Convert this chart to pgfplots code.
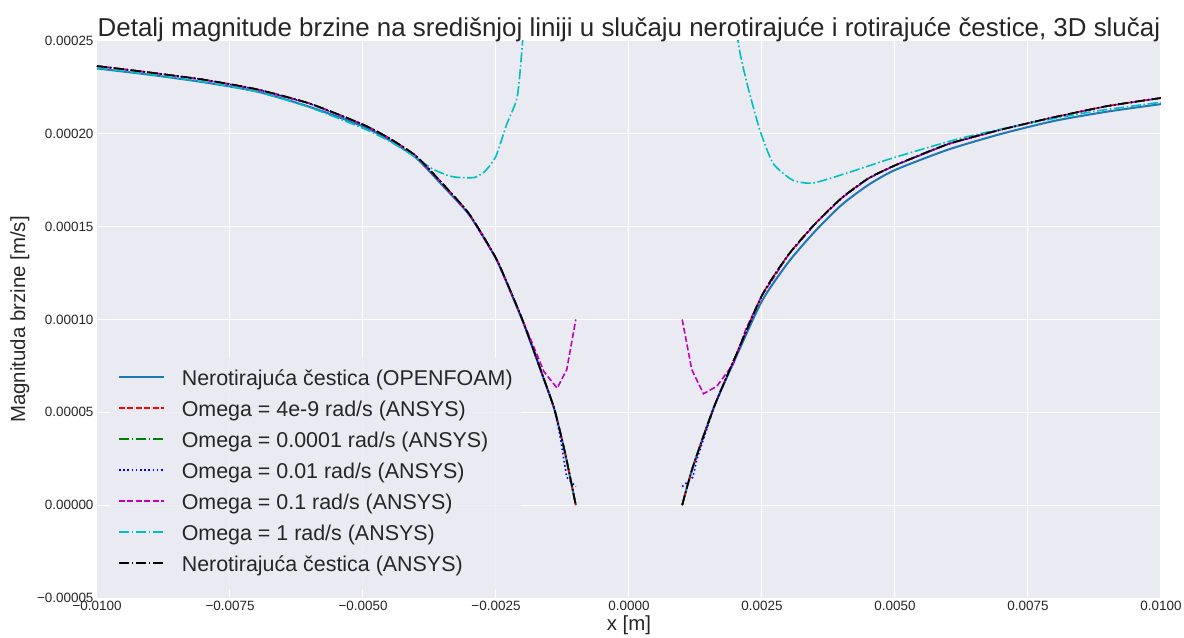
\documentclass[border=0pt]{standalone}
\usepackage{pgfplots}
\pgfplotsset{compat=1.18}
\usepackage{fontspec}
\setmainfont{Liberation Sans}
\definecolor{bgc}{HTML}{EAEAF2}
\definecolor{txt}{HTML}{262626}
\definecolor{c0}{HTML}{1F77B4}
\definecolor{rr}{HTML}{FF0000}
\definecolor{mm}{HTML}{BF00BF}
\definecolor{cc}{HTML}{00BFBF}
\definecolor{gg}{HTML}{008000}

\begin{document}
\begin{tikzpicture}
\useasboundingbox (-97bp,-40bp) rectangle (1087bp,598bp);
\begin{axis}[
    at={(0,0)}, anchor=south west,
    scale only axis, width=1064bp, height=557bp,
    xmin=-0.01, xmax=0.01, ymin=-0.00005, ymax=0.00025,
    axis background/.style={fill=bgc},
    axis line style={draw=none},
    tick style={draw=none},
    scaled ticks=false,
    grid=major, grid style={white, line width=1bp},
    xtick={-0.01,-0.0075,-0.005,-0.0025,0,0.0025,0.005,0.0075,0.01},
    xticklabels={−0.0100,−0.0075,−0.0050,−0.0025,0.0000,0.0025,0.0050,0.0075,0.0100},
    ytick={-0.00005,0,0.00005,0.0001,0.00015,0.0002,0.00025},
    yticklabels={−0.00005,0.00000,0.00005,0.00010,0.00015,0.00020,0.00025},
    ticklabel style={font=\fontsize{13.5}{16}\selectfont, text=txt},
    title={Detalj magnitude brzine na središnjoj liniji u slučaju nerotirajuće i rotirajuće čestice, 3D slučaj},
    title style={font=\fontsize{26}{30}\selectfont, text=txt, at={(axis description cs:0.5,1)}, anchor=base, yshift=-1bp},
    xlabel={x [m]}, ylabel={Magnituda brzine [m/s]},
    label style={font=\fontsize{20.5}{24}\selectfont, text=txt},
    xlabel style={at={(axis description cs:0.5,-0.0485)}, anchor=center},
    ylabel style={at={(axis description cs:-0.0724,0.5)}, anchor=center},
    unbounded coords=jump,
    legend cell align=left,
    legend image code/.code={\draw[#1, line width=1.6bp] (0bp,0.35em) -- (45bp,0.35em);},
    legend style={at={(axis description cs:0,0)}, anchor=south west,
        xshift=13bp, yshift=8bp, fill=bgc, fill opacity=0.8, text opacity=1,
        draw=none, inner sep=8bp, font=\fontsize{21.5}{25}\selectfont,
        row sep=0bp, column sep=17bp,
        nodes={inner sep=0bp, text height=21bp, text depth=10bp, text=txt}},
]

% OPENFOAM, nerotirajuca
\addplot[c0, line width=2bp, smooth, tension=0.4] coordinates {
(-0.0100,2.352e-4) (-0.0090,2.318e-4) (-0.0080,2.278e-4) (-0.0070,2.228e-4)
(-0.0060,2.145e-4) (-0.0050,2.040e-4) (-0.0045,1.965e-4) (-0.0040,1.870e-4)
(-0.0035,1.720e-4) (-0.0030,1.562e-4) (-0.0025,1.328e-4) (-0.0022,1.130e-4)
(-0.0020,0.992e-4) (-0.0018,0.838e-4) (-0.0016,0.678e-4) (-0.0014,0.513e-4)
(-0.0012,0.278e-4) (-0.0010,0)
(0,nan)
(0.0010,0) (0.0012,0.205e-4) (0.0016,0.530e-4) (0.0020,0.790e-4)
(0.0025,1.100e-4) (0.0030,1.310e-4) (0.0035,1.476e-4) (0.0040,1.618e-4)
(0.0045,1.725e-4) (0.0050,1.805e-4) (0.0060,1.915e-4) (0.0070,2.000e-4)
(0.0080,2.070e-4) (0.0090,2.120e-4) (0.0100,2.160e-4)
};
\addlegendentry{Nerotirajuća čestica (OPENFOAM)}

% Omega = 4e-9
\addplot[rr, line width=1.6bp, dash pattern=on 5.9bp off 2.6bp, smooth, tension=0.4] coordinates {
(-0.0100,2.365e-4) (-0.0090,2.330e-4) (-0.0080,2.292e-4) (-0.0070,2.240e-4)
(-0.0060,2.163e-4) (-0.0050,2.050e-4) (-0.0045,1.975e-4) (-0.0040,1.880e-4)
(-0.0035,1.730e-4) (-0.0030,1.567e-4) (-0.0025,1.330e-4) (-0.0022,1.135e-4)
(-0.0020,0.996e-4) (-0.0018,0.840e-4) (-0.0016,0.680e-4) (-0.0014,0.515e-4)
(-0.0012,0.280e-4) (-0.0010,0)
(0,nan)
(0.0010,0) (0.0012,0.205e-4) (0.0016,0.530e-4) (0.0020,0.800e-4)
(0.0025,1.130e-4) (0.0030,1.350e-4) (0.0035,1.516e-4) (0.0040,1.655e-4)
(0.0045,1.760e-4) (0.0050,1.830e-4) (0.0060,1.945e-4) (0.0070,2.023e-4)
(0.0080,2.090e-4) (0.0090,2.150e-4) (0.0100,2.193e-4)
};
\addlegendentry{Omega = 4e-9 rad/s (ANSYS)}

% Omega = 0.0001
\addplot[gg, line width=1.6bp, dash pattern=on 10.2bp off 2.6bp on 1.6bp off 2.6bp, smooth, tension=0.4] coordinates {
(-0.0100,2.365e-4) (-0.0090,2.330e-4) (-0.0080,2.292e-4) (-0.0070,2.240e-4)
(-0.0060,2.163e-4) (-0.0050,2.050e-4) (-0.0045,1.975e-4) (-0.0040,1.880e-4)
(-0.0035,1.730e-4) (-0.0030,1.567e-4) (-0.0025,1.330e-4) (-0.0022,1.135e-4)
(-0.0020,0.996e-4) (-0.0018,0.840e-4) (-0.0016,0.680e-4) (-0.0014,0.515e-4)
(-0.0012,0.280e-4) (-0.0010,0)
(0,nan)
(0.0010,0) (0.0012,0.205e-4) (0.0016,0.530e-4) (0.0020,0.800e-4)
(0.0025,1.130e-4) (0.0030,1.350e-4) (0.0035,1.516e-4) (0.0040,1.655e-4)
(0.0045,1.760e-4) (0.0050,1.830e-4) (0.0060,1.945e-4) (0.0070,2.023e-4)
(0.0080,2.090e-4) (0.0090,2.150e-4) (0.0100,2.193e-4)
};
\addlegendentry{Omega = 0.0001 rad/s (ANSYS)}

% Omega = 0.01
\addplot[blue, line width=1.6bp, dash pattern=on 1.6bp off 2.6bp] coordinates {
(-0.0100,2.365e-4) (-0.0090,2.330e-4) (-0.0080,2.292e-4) (-0.0070,2.240e-4)
(-0.0060,2.163e-4) (-0.0050,2.050e-4) (-0.0045,1.975e-4) (-0.0040,1.880e-4)
(-0.0035,1.730e-4) (-0.0030,1.567e-4) (-0.0025,1.330e-4) (-0.0022,1.135e-4)
(-0.0020,0.996e-4) (-0.0018,0.840e-4) (-0.0016,0.680e-4) (-0.0014,0.515e-4)
(-0.0013,0.380e-4) (-0.00117,0.150e-4) (-0.0010,0.100e-4)
(0,nan)
(0.0010,0.100e-4) (0.0012,0.150e-4) (0.00128,0.250e-4) (0.0016,0.530e-4) (0.0020,0.800e-4)
(0.0025,1.130e-4) (0.0030,1.350e-4) (0.0035,1.516e-4) (0.0040,1.655e-4)
(0.0045,1.760e-4) (0.0050,1.830e-4) (0.0060,1.945e-4) (0.0070,2.023e-4)
(0.0080,2.090e-4) (0.0090,2.150e-4) (0.0100,2.193e-4)
};
\addlegendentry{Omega = 0.01 rad/s (ANSYS)}

% Omega = 0.1
\addplot[mm, line width=1.6bp, dash pattern=on 5.9bp off 2.6bp] coordinates {
(-0.0100,2.365e-4) (-0.0090,2.330e-4) (-0.0080,2.292e-4) (-0.0070,2.240e-4)
(-0.0060,2.163e-4) (-0.0050,2.050e-4) (-0.0045,1.975e-4) (-0.0040,1.880e-4)
(-0.0035,1.730e-4) (-0.0030,1.567e-4) (-0.0025,1.330e-4) (-0.0022,1.135e-4)
(-0.0020,0.996e-4) (-0.0018,0.860e-4) (-0.0016,0.720e-4) (-0.00135,0.630e-4)
(-0.00117,0.730e-4) (-0.0010,1.000e-4)
(0,nan)
(0.0010,1.000e-4) (0.00118,0.730e-4) (0.0014,0.600e-4) (0.00165,0.640e-4)
(0.00196,0.760e-4) (0.0022,0.950e-4)
(0.0025,1.130e-4) (0.0030,1.350e-4) (0.0035,1.516e-4) (0.0040,1.655e-4)
(0.0045,1.760e-4) (0.0050,1.830e-4) (0.0060,1.945e-4) (0.0070,2.023e-4)
(0.0080,2.090e-4) (0.0090,2.150e-4) (0.0100,2.193e-4)
};
\addlegendentry{Omega = 0.1 rad/s (ANSYS)}

% Omega = 1
\addplot[cc, line width=1.6bp, dash pattern=on 10.2bp off 2.6bp on 1.6bp off 2.6bp, smooth, tension=0.35] coordinates {
(-0.0100,2.355e-4) (-0.0090,2.320e-4) (-0.0080,2.280e-4) (-0.0070,2.228e-4)
(-0.0060,2.142e-4) (-0.0050,2.030e-4) (-0.0045,1.960e-4) (-0.0040,1.872e-4)
(-0.0037,1.812e-4) (-0.0034,1.775e-4) (-0.0032,1.765e-4) (-0.0029,1.765e-4)
(-0.0027,1.800e-4) (-0.0025,1.880e-4) (-0.0023,2.050e-4) (-0.0021,2.200e-4)
(-0.0020,2.500e-4) (-0.0019,3.000e-4)
(0,nan)
(0.0019,3.000e-4) (0.00205,2.500e-4) (0.00222,2.270e-4) (0.00246,2.020e-4)
(0.00271,1.840e-4) (0.00308,1.750e-4) (0.00346,1.735e-4) (0.0041,1.789e-4)
(0.00496,1.870e-4) (0.00622,1.975e-4) (0.00748,2.055e-4) (0.00872,2.120e-4)
(0.0100,2.170e-4)
};
\addlegendentry{Omega = 1 rad/s (ANSYS)}

% ANSYS, nerotirajuca
\addplot[black, line width=1.6bp, dash pattern=on 10.2bp off 2.6bp on 1.6bp off 2.6bp, smooth, tension=0.4] coordinates {
(-0.0100,2.365e-4) (-0.0090,2.330e-4) (-0.0080,2.292e-4) (-0.0070,2.240e-4)
(-0.0060,2.163e-4) (-0.0050,2.050e-4) (-0.0045,1.975e-4) (-0.0040,1.880e-4)
(-0.0035,1.730e-4) (-0.0030,1.567e-4) (-0.0025,1.330e-4) (-0.0022,1.135e-4)
(-0.0020,0.996e-4) (-0.0018,0.840e-4) (-0.0016,0.680e-4) (-0.0014,0.515e-4)
(-0.0012,0.280e-4) (-0.0010,0)
(0,nan)
(0.0010,0) (0.0012,0.205e-4) (0.0016,0.530e-4) (0.0020,0.800e-4)
(0.0025,1.130e-4) (0.0030,1.350e-4) (0.0035,1.516e-4) (0.0040,1.655e-4)
(0.0045,1.760e-4) (0.0050,1.830e-4) (0.0060,1.945e-4) (0.0070,2.023e-4)
(0.0080,2.090e-4) (0.0090,2.150e-4) (0.0100,2.193e-4)
};
\addlegendentry{Nerotirajuća čestica (ANSYS)}

\end{axis}
\end{tikzpicture}
\end{document}
